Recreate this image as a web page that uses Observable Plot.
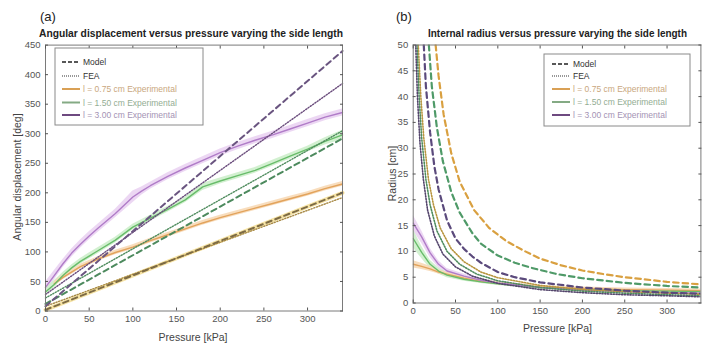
<!DOCTYPE html>
<html><head><meta charset="utf-8">
<script src="https://cdn.jsdelivr.net/npm/d3@7"></script>
<script src="https://cdn.jsdelivr.net/npm/@observablehq/plot@0.6"></script>
<style>
body{margin:0;background:#fff;}
#wrap{position:relative;width:720px;height:344px;overflow:hidden;background:#fff;}
#a,#b{position:absolute;top:0;width:360px;height:344px;}
#a{left:0}#b{left:360px}
svg{overflow:visible}
</style></head><body><div id="wrap"><div id="a"></div><div id="b"></div></div>
<script>
// ---------- ticks ----------
const pressureTicks = [0, 50, 100, 150, 200, 250, 300];
const angleTicks = [0, 50, 100, 150, 200, 250, 300, 350, 400, 450];
const radiusTicks = [0, 5, 10, 15, 20, 25, 30, 35, 40, 45, 50];

// ---------- (a) angular displacement [deg] vs pressure [kPa] ----------
const aExpP_075 = [10, 20, 40, 60, 80, 100, 120, 140, 160, 180, 200, 220, 240, 260, 280, 300, 320, 340];
const aExp_075  = [46, 57, 75, 88, 99, 108, 119, 129, 139, 149, 158, 166, 174, 182, 190, 198, 207, 215];
const aSd_075   = [4, 4, 4, 4, 4, 4, 4, 4, 4, 4, 4, 4, 4, 4, 4, 4, 4, 4];
const aExpP_150 = [0, 10, 20, 30, 40, 50, 60, 80, 100, 120, 140, 160, 180, 200, 220, 240, 260, 280, 300, 320, 340];
const aExp_150  = [32, 45, 60, 73, 84, 93, 102, 120, 142, 157, 172, 188, 210, 220, 229, 238, 250, 262, 274, 287, 298];
const aSd_150   = [7, 6, 5, 5, 5, 5, 5, 5, 5, 5, 5, 5, 6, 5, 5, 5, 5, 5, 5, 6, 8];
const aExpP_300 = [0, 10, 20, 30, 40, 50, 60, 80, 100, 110, 120, 140, 160, 180, 200, 220, 240, 260, 280, 300, 320, 340];
const aExp_300  = [40, 60, 80, 98, 113, 127, 140, 165, 193, 203, 212, 228, 242, 255, 268, 279, 289, 298, 308, 318, 328, 336];
const aSd_300   = [9, 8, 7, 7, 7, 7, 7, 7, 10, 7, 6, 6, 6, 6, 6, 6, 6, 6, 6, 6, 6, 6];
const aModelP   = [0, 340];
const aModel_075 = [2, 200];
const aModel_150 = [12, 292];
const aModel_300 = [8, 440];
const aFea_075   = [8, 192];
const aFea_150   = [22, 305];
const aFea_300   = [28, 385];

// ---------- (b) internal radius [cm] vs pressure [kPa] ----------
const bExpP = [0, 10, 20, 30, 40, 60, 80, 100, 150, 200, 250, 300, 340];
const bExp_075 = [7.5, 7.1, 6.6, 6.0, 5.6, 4.8, 4.2, 3.8, 3.1, 2.8, 2.6, 2.5, 2.4];
const bSd_075  = [0.7, 0.6, 0.5, 0.4, 0.4, 0.3, 0.3, 0.3, 0.3, 0.3, 0.3, 0.3, 0.3];
const bExp_150 = [12.5, 9.8, 7.5, 6.2, 5.4, 4.6, 4.1, 3.7, 3.0, 2.6, 2.4, 2.3, 2.2];
const bSd_150  = [1.8, 1.2, 0.8, 0.6, 0.5, 0.4, 0.3, 0.3, 0.3, 0.3, 0.3, 0.3, 0.3];
const bExp_300 = [15.5, 12.8, 9.7, 7.5, 6.2, 5.2, 4.4, 3.9, 3.0, 2.5, 2.2, 2.0, 1.9];
const bSd_300  = [1.5, 1.2, 0.9, 0.7, 0.5, 0.4, 0.3, 0.3, 0.3, 0.3, 0.3, 0.3, 0.3];

const bModelP_075 = [26.5, 30, 36, 45, 55, 72, 90, 110, 130, 150, 175, 200, 225, 250, 300, 340];
const bModel_075  = [50, 44, 36.5, 29, 23.5, 18, 14.5, 12, 10.2, 8.6, 7.3, 6.3, 5.6, 5.0, 4.1, 3.6];
const bModelP_150 = [18.5, 22, 28, 35, 45, 55, 70, 80, 100, 120, 140, 170, 200, 250, 300, 340];
const bModel_150  = [50, 42, 34, 27.5, 21.5, 17.5, 13.5, 11.5, 9.2, 7.8, 6.8, 5.6, 4.8, 3.9, 3.3, 3.0];
const bModelP_300 = [12.5, 15, 20, 25, 30, 40, 50, 60, 70, 80, 100, 120, 150, 200, 250, 300, 340];
const bModel_300  = [50, 42, 33, 26.5, 22, 16, 12.5, 10.5, 9, 7.8, 6.0, 5.0, 4.0, 3.0, 2.4, 2.0, 1.8];

const bFeaP_075 = [6, 9, 12.5, 18, 24, 32, 45, 60, 80, 100, 150, 200, 250, 300, 340];
const bFea_075  = [50, 40, 32, 24, 19, 14.5, 10.5, 8, 6, 4.9, 3.4, 2.6, 2.2, 1.9, 1.7];
const bFeaP_150 = [4.5, 7, 10, 15, 20, 28, 40, 55, 75, 100, 150, 200, 250, 300, 340];
const bFea_150  = [50, 40, 32, 24, 19, 14, 10, 7.5, 5.6, 4.3, 3.0, 2.3, 1.9, 1.6, 1.4];
const bFeaP_300 = [3, 5, 8, 12, 17, 25, 35, 50, 70, 100, 150, 200, 250, 300, 340];
const bFea_300  = [50, 40, 31, 24, 18, 13, 9.5, 7, 5.2, 3.8, 2.6, 2.0, 1.6, 1.4, 1.2];

const legendLabels = ["Model", "FEA", "l = 0.75 cm Experimental", "l = 1.50 cm Experimental", "l = 3.00 cm Experimental"];

// ---------- helpers ----------
const FONT = '"Liberation Sans", Arial, Helvetica, sans-serif';
const rows = (P, V, S) => P.map((p, i) => ({p, v: V[i], lo: S ? V[i] - S[i] : null, hi: S ? V[i] + S[i] : null}));
const C = {
  oExp: "#e2a35c", oBand: "#f7d9b6",
  gExp: "#68bc6a", gBand: "#cdeecb",
  pExp: "#b07cc8", pBand: "#ead3f2"
};
const DOT = "1.2,1.6";
const DASH = "5.5,4";

function axes(xt, yt) {
  return [
    Plot.frame({stroke: "#7a7a7a", strokeWidth: 1}),
    Plot.axisX({anchor: "bottom", ticks: xt, tickSize: -3, tickPadding: 7, label: null, stroke: "#555"}),
    Plot.axisX({anchor: "top", ticks: xt, tickSize: -3, tickFormat: () => "", label: null, stroke: "#555"}),
    Plot.axisY({anchor: "left", ticks: yt, tickSize: -3, tickPadding: 8, label: null, stroke: "#555"}),
    Plot.axisY({anchor: "right", ticks: yt, tickSize: -3, tickFormat: () => "", label: null, stroke: "#555"})
  ];
}

function addText(svg, x, y, str, opts = {}) {
  const t = d3.select(svg).append("text")
    .attr("x", x).attr("y", y)
    .attr("font-family", FONT)
    .attr("font-size", opts.size || 10)
    .attr("fill", opts.fill || "#333")
    .attr("font-weight", opts.weight || "normal")
    .attr("text-anchor", opts.anchor || "start")
    .text(str);
  if (opts.rotate) t.attr("transform", `rotate(${opts.rotate},${x},${y})`);
  if (opts.len) t.attr("textLength", opts.len).attr("lengthAdjust", "spacingAndGlyphs");
  return t;
}

function addLegend(svg, L) {
  const g = d3.select(svg).append("g").attr("text-anchor", "start");
  g.append("rect").attr("x", L.x).attr("y", L.y).attr("width", L.w).attr("height", L.h)
    .attr("fill", "#fff").attr("stroke", "#8a8a8a").attr("stroke-width", 1);
  const styles = [
    {stroke: "#222", dash: "4,2", w: 1.6},
    {stroke: "#333", dash: "1,1", w: 1.2},
    {stroke: "#d9a055", dash: null, w: 2},
    {stroke: "#84aa84", dash: null, w: 2},
    {stroke: "#6e4a80", dash: null, w: 2}
  ];
  const textFill = ["#333", "#333", "#c9a77e", "#93ad93", "#a493b4"];
  legendLabels.forEach((lab, i) => {
    const y = L.rows[i];
    const ln = g.append("line").attr("x1", L.sx1).attr("x2", L.sx2).attr("y1", y).attr("y2", y)
      .attr("stroke", styles[i].stroke).attr("stroke-width", styles[i].w);
    if (styles[i].dash) ln.attr("stroke-dasharray", styles[i].dash);
    g.append("text").attr("x", L.tx).attr("y", y + 3).attr("font-family", FONT).attr("font-size", 8.5)
      .attr("text-anchor", "start").attr("fill", textFill[i]).text(lab);
  });
}

// ---------- chart (a) ----------
const a075 = rows(aExpP_075, aExp_075, aSd_075);
const a150 = rows(aExpP_150, aExp_150, aSd_150);
const a300 = rows(aExpP_300, aExp_300, aSd_300);

const plotA = Plot.plot({
  width: 360, height: 344,
  marginLeft: 45, marginRight: 18, marginTop: 44.6, marginBottom: 33.5,
  style: {fontFamily: FONT, fontSize: "9.5px", color: "#555", background: "transparent"},
  x: {domain: [0, 340]},
  y: {domain: [0, 450]},
  marks: [
    Plot.areaY(a300, {x: "p", y1: "lo", y2: "hi", fill: C.pBand, fillOpacity: 0.9}),
    Plot.areaY(a150, {x: "p", y1: "lo", y2: "hi", fill: C.gBand, fillOpacity: 0.9}),
    Plot.areaY(a075, {x: "p", y1: "lo", y2: "hi", fill: C.oBand, fillOpacity: 0.9}),
    Plot.line(rows(aModelP, aModel_075), {x: "p", y: "v", stroke: "#f6e3a4", strokeWidth: 4}),
    Plot.line(a075, {x: "p", y: "v", stroke: C.oExp, strokeWidth: 1.4}),
    Plot.line(a150, {x: "p", y: "v", stroke: C.gExp, strokeWidth: 1.4}),
    Plot.line(a300, {x: "p", y: "v", stroke: C.pExp, strokeWidth: 1.4}),
    Plot.line(rows(aModelP, aFea_075), {x: "p", y: "v", stroke: "#a88a45", strokeWidth: 1.4, strokeDasharray: DOT}),
    Plot.line(rows(aModelP, aFea_150), {x: "p", y: "v", stroke: "#4f8c5e", strokeWidth: 1.4, strokeDasharray: DOT}),
    Plot.line(rows(aModelP, aFea_300), {x: "p", y: "v", stroke: "#6a4c7c", strokeWidth: 1.4, strokeDasharray: DOT}),
    Plot.line(rows(aModelP, aModel_075), {x: "p", y: "v", stroke: "#7d6b45", strokeWidth: 2, strokeDasharray: DASH}),
    Plot.line(rows(aModelP, aModel_150), {x: "p", y: "v", stroke: "#4d8a5e", strokeWidth: 2, strokeDasharray: DASH}),
    Plot.line(rows(aModelP, aModel_300), {x: "p", y: "v", stroke: "#6a5580", strokeWidth: 2, strokeDasharray: DASH}),
    ...axes(pressureTicks, angleTicks)
  ]
});
document.getElementById("a").append(plotA);
addText(plotA, 40, 21, "(a)", {size: 13, fill: "#222"});
addText(plotA, 191, 37, "Angular displacement versus pressure varying the side length", {size: 10.5, weight: "bold", fill: "#222", anchor: "middle", len: 304});
addText(plotA, 21, 177, "Angular displacement [deg]", {size: 10.5, fill: "#444", anchor: "middle", rotate: -90});
addText(plotA, 193, 341, "Pressure [kPa]", {size: 10.5, fill: "#444", anchor: "middle"});
addLegend(plotA, {x: 55, y: 48, w: 148, h: 77, rows: [62, 76, 89, 102.5, 115], sx1: 62, sx2: 80, tx: 83});

// ---------- chart (b) ----------
const b075 = rows(bExpP, bExp_075, bSd_075);
const b150 = rows(bExpP, bExp_150, bSd_150);
const b300 = rows(bExpP, bExp_300, bSd_300);

const plotB = Plot.plot({
  width: 360, height: 344,
  marginLeft: 52.7, marginRight: 19.6, marginTop: 44.5, marginBottom: 41.5,
  style: {fontFamily: FONT, fontSize: "9.5px", color: "#555", background: "transparent"},
  x: {domain: [0, 340]},
  y: {domain: [0, 50]},
  clip: true,
  marks: [
    Plot.areaY(b300, {x: "p", y1: "lo", y2: "hi", fill: C.pBand, fillOpacity: 0.9}),
    Plot.areaY(b150, {x: "p", y1: "lo", y2: "hi", fill: C.gBand, fillOpacity: 0.9}),
    Plot.areaY(b075, {x: "p", y1: "lo", y2: "hi", fill: C.oBand, fillOpacity: 0.9}),
    Plot.line(b075, {x: "p", y: "v", stroke: C.oExp, strokeWidth: 1.4}),
    Plot.line(b150, {x: "p", y: "v", stroke: C.gExp, strokeWidth: 1.4}),
    Plot.line(b300, {x: "p", y: "v", stroke: C.pExp, strokeWidth: 1.4}),
    Plot.line(rows(bFeaP_075, bFea_075), {x: "p", y: "v", stroke: "#b8953f", strokeWidth: 1.6, strokeDasharray: DOT}),
    Plot.line(rows(bFeaP_150, bFea_150), {x: "p", y: "v", stroke: "#4f8c5e", strokeWidth: 1.6, strokeDasharray: DOT}),
    Plot.line(rows(bFeaP_300, bFea_300), {x: "p", y: "v", stroke: "#54456c", strokeWidth: 1.6, strokeDasharray: DOT}),
    Plot.line(rows(bModelP_075, bModel_075), {x: "p", y: "v", stroke: "#d9a040", strokeWidth: 2.2, strokeDasharray: DASH}),
    Plot.line(rows(bModelP_150, bModel_150), {x: "p", y: "v", stroke: "#4f9a68", strokeWidth: 2.2, strokeDasharray: DASH}),
    Plot.line(rows(bModelP_300, bModel_300), {x: "p", y: "v", stroke: "#5b4a7c", strokeWidth: 2.2, strokeDasharray: DASH}),
    ...axes(pressureTicks, radiusTicks)
  ]
});
document.getElementById("b").append(plotB);
addText(plotB, 36, 21, "(b)", {size: 13, fill: "#222"});
addText(plotB, 197.5, 37, "Internal radius versus pressure varying the side length", {size: 10.5, weight: "bold", fill: "#222", anchor: "middle", len: 259});
addText(plotB, 35.5, 173.5, "Radius [cm]", {size: 10.5, fill: "#444", anchor: "middle", rotate: -90});
addText(plotB, 197.5, 332, "Pressure [kPa]", {size: 10.5, fill: "#444", anchor: "middle"});
addLegend(plotB, {x: 184, y: 54, w: 146, h: 72, rows: [64, 76, 89, 102, 115], sx1: 192, sx2: 210, tx: 213});
</script>
</body></html>
